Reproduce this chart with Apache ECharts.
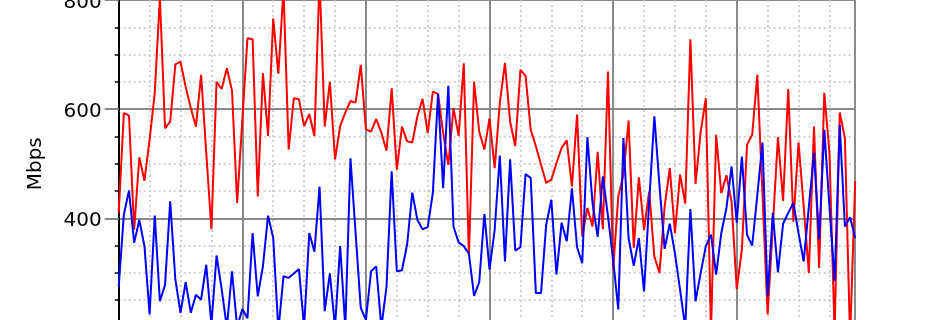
<!DOCTYPE html>
<html><head><meta charset="utf-8">
<script src="https://cdn.jsdelivr.net/npm/echarts@6/dist/echarts.min.js"></script>
<style>html,body{margin:0;padding:0;background:#fff}#c{width:950px;height:320px}</style>
</head><body><div id="c"></div>
<script>
// hourly samples (x = hour index), Mbps
const redSeries = [
 410,593,588,379,512,469,544,630,805,565,577,682,687,641,602,568,663,520,380,650,637,675,634,428,
 580,730,728,440,666,551,766,665,820,526,620,618,569,591,551,840,568,650,508,569,594,615,612,681,
 563,559,582,557,524,638,489,568,541,539,587,619,556,632,628,556,498,602,551,684,330,650,559,526,
 583,492,611,685,577,532,672,661,562,532,498,465,471,501,529,543,458,590,367,419,385,522,380,669,
 306,440,480,579,346,475,379,449,330,300,422,492,373,480,427,728,463,559,620,190,553,446,479,430,
 270,343,535,553,663,443,224,385,549,432,637,394,539,422,300,568,309,630,520,190,594,547,180,468
];
const blueSeries = [
 275,407,451,355,397,349,224,405,248,278,431,288,227,283,227,260,251,315,205,332,270,200,303,200,
 234,217,373,257,312,405,364,195,294,291,299,307,200,373,339,458,230,299,200,349,200,510,373,236,
 214,303,312,200,275,486,303,305,352,447,397,380,384,447,628,455,643,385,356,349,335,258,283,408,
 306,379,515,321,508,341,347,481,474,263,263,388,434,297,392,358,455,347,318,549,428,366,477,404,
 324,233,547,364,313,364,266,430,587,460,344,390,336,269,200,417,248,300,349,370,297,373,419,495,
 392,513,370,350,443,539,257,410,301,390,410,428,373,321,421,520,362,562,422,285,571,385,402,364
];
const yTickValues = [200, 400, 600, 800];
const yLabel = 'Mbps';
const xMax = redSeries.length - 1;

const font = 'DejaVu Sans';
const chart = echarts.init(document.getElementById('c'), null, {renderer: 'canvas'});
const hidden = {show: false};
chart.setOption({
  animation: false,
  backgroundColor: '#ffffff',
  grid: {left: 118.7, right: 94.8, top: 0, height: 327.5, containLabel: false, outerBoundsMode: 'none'},
  xAxis: [
    { // minor (6h) dotted grid
      type: 'value', min: 0, max: xMax, interval: 6,
      axisLine: hidden, axisTick: hidden, axisLabel: hidden,
      splitLine: {show: true, lineStyle: {color: '#c4c4c4', width: 1.5, type: [2, 3]}}
    },
    { // major (24h) grid
      type: 'value', min: 0, max: xMax, interval: 24,
      axisLine: hidden, axisTick: hidden, axisLabel: hidden,
      splitLine: {show: true, lineStyle: {color: '#8a8a8a', width: 2}}
    }
  ],
  yAxis: [
    {
      type: 'value', min: yTickValues[0], max: yTickValues[yTickValues.length - 1], interval: 200,
      position: 'left',
      name: yLabel, nameLocation: 'middle', nameGap: 73, nameRotate: 90,
      nameTextStyle: {fontFamily: font, fontSize: 20, color: '#000'},
      axisLine: {show: true, lineStyle: {color: '#000', width: 2}},
      axisTick: {show: true, inside: false, length: 14, lineStyle: {color: '#8a8a8a', width: 2}},
      minorTick: {show: true, splitNumber: 4, length: 4, lineStyle: {color: '#000', width: 1.5}},
      axisLabel: {show: true, margin: 17, fontFamily: font, fontSize: 20, color: '#000',
                  verticalAlign: 'top', lineHeight: 5},
      splitLine: {show: true, lineStyle: {color: '#8a8a8a', width: 2}},
      minorSplitLine: {show: true, lineStyle: {color: '#c4c4c4', width: 1.5, type: [2, 3]}}
    },
    {
      type: 'value', min: yTickValues[0], max: yTickValues[yTickValues.length - 1], interval: 200,
      position: 'right',
      axisLine: {show: true, lineStyle: {color: '#000', width: 2}},
      axisTick: hidden, axisLabel: hidden, splitLine: hidden
    }
  ],
  series: [
    {
      type: 'line', xAxisIndex: 1, yAxisIndex: 0,
      data: redSeries.map((v, i) => [i, v]),
      showSymbol: false, symbol: 'none',
      lineStyle: {color: '#ff0000', width: 2}, itemStyle: {color: '#ff0000'}
    },
    {
      type: 'line', xAxisIndex: 1, yAxisIndex: 0,
      data: blueSeries.map((v, i) => [i, v]),
      showSymbol: false, symbol: 'none',
      lineStyle: {color: '#0000ff', width: 2}, itemStyle: {color: '#0000ff'}
    }
  ]
});
</script></body></html>
